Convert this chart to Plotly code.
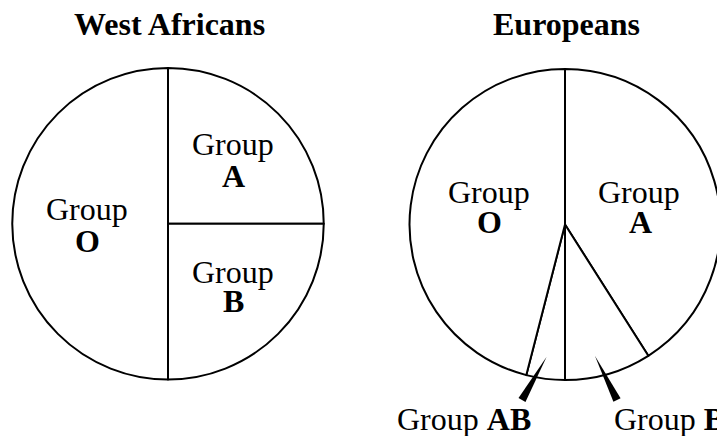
import math
import plotly.graph_objects as go

# page body has an 8px margin, so the figure is drawn 8px in and 8px down
OFF = 8
W, H = 725 - OFF, 436 - OFF

# ---- data ----
west_groups = ["A", "B", "O"]
west_values = [25, 25, 50]
euro_groups = ["A", "B", "AB", "O"]
euro_values = [41, 9, 4, 46]
titles = ["West Africans", "Europeans"]


def px(x):
    return (x - OFF) / W


def py(y):
    return 1 - (y - OFF) / H


line = dict(color="black", width=2)
fig = go.Figure()
fig.add_trace(go.Pie(
    labels=west_groups, values=west_values, sort=False, direction="clockwise",
    rotation=0, textinfo="none", hoverinfo="skip",
    marker=dict(colors=["white"] * 3, line=line),
    domain=dict(x=[px(12), px(324)], y=[py(379.5), py(68)]),
    showlegend=False,
))
fig.add_trace(go.Pie(
    labels=euro_groups, values=euro_values, sort=False, direction="clockwise",
    rotation=0, textinfo="none", hoverinfo="skip",
    marker=dict(colors=["white"] * 4, line=line),
    domain=dict(x=[px(409), px(721)], y=[py(380), py(69)]),
    showlegend=False,
))

FONT = "Liberation Serif"
ann = []


def label(text, x, y, size=32, xanchor="center"):
    ann.append(dict(text=text, x=px(x), y=py(y), xref="paper", yref="paper",
                    xanchor=xanchor, yanchor="middle", showarrow=False,
                    font=dict(family=FONT, size=size, color="black")))


label("<b>" + titles[0] + "</b>", 169, 24, 32)
label("<b>" + titles[1] + "</b>", 566, 24, 32)

# West Africans labels
label("Group", 233, 144)
label("<b>" + west_groups[0] + "</b>", 233, 176)
label("Group", 233, 272)
label("<b>" + west_groups[1] + "</b>", 233, 301)
label("Group", 87, 209)
label("<b>" + west_groups[2] + "</b>", 87, 241)

# Europeans labels
label("Group", 489, 192)
label("<b>" + euro_groups[3] + "</b>", 489, 222)
label("Group", 639, 192)
label("<b>" + euro_groups[0] + "</b>", 640, 222)
label("Group <b>" + euro_groups[2] + "</b>", 464, 419, 32)
label("Group <b>" + euro_groups[1] + "</b>", 612, 419, 32, xanchor="left")

# tapered pointers
shapes = []


def wedge(tip, base, half=4):
    dx, dy = base[0] - tip[0], base[1] - tip[1]
    L = math.hypot(dx, dy)
    nx, ny = -dy / L * half, dx / L * half
    p = [tip, (base[0] + nx, base[1] + ny), (base[0] - nx, base[1] - ny)]
    path = "M {} {} L {} {} L {} {} Z".format(
        px(p[0][0]), py(p[0][1]), px(p[1][0]), py(p[1][1]), px(p[2][0]), py(p[2][1]))
    shapes.append(dict(type="path", path=path, xref="paper", yref="paper",
                       fillcolor="black", line=dict(width=0)))


wedge((546.5, 357), (522, 400))
wedge((595, 356), (617, 400))

fig.update_layout(
    width=W, height=H, margin=dict(l=0, r=0, t=0, b=0),
    paper_bgcolor="white", plot_bgcolor="white",
    annotations=ann, shapes=shapes,
)
fig.write_html("out.html")
